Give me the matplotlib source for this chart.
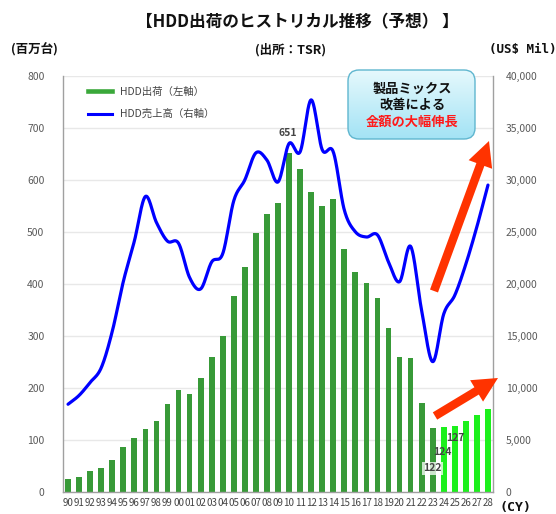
import numpy as np
import matplotlib
matplotlib.use("Agg")
import matplotlib.pyplot as plt
from matplotlib.patches import FancyBboxPatch, FancyArrow
from matplotlib.lines import Line2D
from matplotlib.ticker import FuncFormatter

plt.rcParams['font.family'] = ['Noto Sans CJK JP', 'DejaVu Sans']

# ---------------- data ----------------
years = ["90", "91", "92", "93", "94", "95", "96", "97", "98", "99",
         "00", "01", "02", "03", "04", "05", "06", "07", "08", "09",
         "10", "11", "12", "13", "14", "15", "16", "17", "18", "19",
         "20", "21", "22", "23", "24", "25", "26", "27", "28"]
shipments = [25, 28, 40, 46, 61, 85, 103, 121, 135, 169,
             195, 188, 219, 259, 299, 376, 432, 498, 534, 555,
             651, 620, 576, 550, 563, 467, 422, 401, 373, 315,
             259, 257, 171, 122, 124, 127, 135, 148, 159]
revenue = [8400, 9250, 10500, 11900, 15400, 20200, 24100, 28400, 25900, 24100,
           23900, 20600, 19500, 22100, 22900, 28000, 30000, 32600, 31900, 29800,
           33500, 32700, 37700, 32900, 32700, 27100, 25000, 24500, 24700, 22100,
           20200, 23600, 17400, 12500, 17100, 18900, 21900, 25500, 29500]
forecast_from = "24"
left_ticks = [0, 100, 200, 300, 400, 500, 600, 700, 800]
right_ticks = [0, 5000, 10000, 15000, 20000, 25000, 30000, 35000, 40000]
labelled = {"10": "651", "23": "122", "24": "124", "25": "127"}

title = "【HDD出荷のヒストリカル推移（予想） 】"
left_unit = "(百万台)"
source = "(出所：TSR)"
right_unit = "(US$ Mil)"
x_unit = "(CY)"
legend_labels = ["HDD出荷（左軸）", "HDD売上高（右軸）"]
note_lines = ["製品ミックス", "改善による", "金額の大幅伸長"]

# ---------------- colours ----------------
DARK_GREEN = "#389a38"
LIGHT_GREEN = "#1cf01c"
BLUE = "#0000ff"
GRID = "#e8e8e8"
SPINE = "#a0a0a0"
TICK = "#5a5a5a"
ARROW = "#ff3300"


def catmull_rom(y, n=24):
    y = np.asarray(y, dtype=float)
    p = np.concatenate([[2 * y[0] - y[1]], y, [2 * y[-1] - y[-2]]])
    xs, ys = [], []
    for i in range(len(y) - 1):
        p0, p1, p2, p3 = p[i], p[i + 1], p[i + 2], p[i + 3]
        t = np.linspace(0, 1, n, endpoint=False)
        yy = 0.5 * ((2 * p1) + (-p0 + p2) * t + (2 * p0 - 5 * p1 + 4 * p2 - p3) * t ** 2
                    + (-p0 + 3 * p1 - 3 * p2 + p3) * t ** 3)
        xs.append(i + t)
        ys.append(yy)
    xs.append([len(y) - 1])
    ys.append([y[-1]])
    return np.concatenate(xs), np.concatenate(ys)


W, H = 556, 514
fig = plt.figure(figsize=(W / 100, H / 100), dpi=100)
fig.patch.set_facecolor("white")

L, R, T, B = 62.5, 493.5, 76, 491.5
ax = fig.add_axes([L / W, (H - B) / H, (R - L) / W, (B - T) / H])
x = np.arange(len(years))
fi = years.index(forecast_from)
colors = [DARK_GREEN if i < fi else LIGHT_GREEN for i in range(len(years))]
ax.bar(x, shipments, width=0.52, color=colors, zorder=2)
ax.set_xlim(-0.5, len(years) - 0.5)
ax.set_ylim(left_ticks[0], left_ticks[-1])
ax.set_yticks(left_ticks)
ax.set_xticks(x)
ax.set_xticklabels(years, fontsize=7, color="#444444")
ax.tick_params(axis="x", length=0, pad=5)
ax.tick_params(axis="y", length=0, pad=13, labelsize=7.5, labelcolor=TICK)
ax.set_axisbelow(True)
ax.yaxis.grid(True, color=GRID, lw=1)
for s in ["top", "right"]:
    ax.spines[s].set_visible(False)
for s in ["left", "bottom"]:
    ax.spines[s].set_color(SPINE)
    ax.spines[s].set_linewidth(1)

ax2 = ax.twinx()
lx, ly = catmull_rom(revenue)
ax2.plot(lx, ly, color=BLUE, lw=2.3, zorder=3, solid_capstyle="round")
ax2.set_ylim(right_ticks[0], right_ticks[-1])
ax2.set_yticks(right_ticks)
ax2.yaxis.set_major_formatter(FuncFormatter(lambda v, p: f"{int(v):,}"))
ax2.tick_params(axis="y", length=0, pad=9, labelsize=7.5, labelcolor=TICK)
for s in ["top", "left", "bottom"]:
    ax2.spines[s].set_visible(False)
ax2.spines["right"].set_color(SPINE)
ax2.spines["right"].set_linewidth(1)

# data labels
i10 = years.index("10")
ax.annotate(labelled["10"], (i10, shipments[i10]), xytext=(-1, 15), textcoords="offset points",
            ha="center", va="center", fontsize=7.5, color="#444444", fontweight="bold", zorder=5)
offsets = {"23": (0, -40), "24": (-1, -25), "25": (0, -12)}
for key in ["23", "24", "25"]:
    i = years.index(key)
    ax.annotate(labelled[key], (i, shipments[i]), xytext=offsets[key], textcoords="offset pixels",
                ha="center", va="center", fontsize=7.5, color="#444444", fontweight="bold", zorder=6,
                bbox=dict(boxstyle="square,pad=0.15", fc="white", ec="none",
                          alpha=0.75 if key == "23" else 0.0))

# legend
handles = [Line2D([], [], color="#3aa83a", lw=3.3), Line2D([], [], color=BLUE, lw=2.2)]
ax.legend(handles, legend_labels, loc="upper left", bbox_to_anchor=((88 - L) / (R - L), 1 - (87 - T) / (B - T)),
          frameon=False, fontsize=7.5, handlelength=2.3, handletextpad=0.8, labelspacing=1.15,
          borderaxespad=0, borderpad=0, labelcolor="#444444")

# texts
fig.text(297 / W, 1 - 22 / H, title, ha="center", va="center", fontsize=12, fontweight="bold", color="#111111")
fig.text(34 / W, 1 - 50 / H, left_unit, ha="center", va="center", fontsize=9, fontweight="bold", color="#111111")
fig.text(291 / W, 1 - 50 / H, source, ha="center", va="center", fontsize=9, fontweight="bold", color="#111111")
fig.text(523 / W, 1 - 50 / H, right_unit, ha="center", va="center", fontsize=9, fontweight="bold",
         color="#111111", family=["DejaVu Sans Mono"])
fig.text(516 / W, 1 - 507 / H, x_unit, ha="center", va="center", fontsize=9.5, fontweight="bold",
         color="#111111", family=["DejaVu Sans Mono"])

# overlay for callout box and arrows (pixel coordinates)
ov = fig.add_axes([0, 0, 1, 1], zorder=10)
ov.set_xlim(0, W)
ov.set_ylim(H, 0)
ov.axis("off")

bx0, bx1, by0, by1 = 348, 475, 70, 139
box = FancyBboxPatch((bx0, by0), bx1 - bx0, by1 - by0, boxstyle="round,pad=0,rounding_size=11",
                     fc="none", ec="#5fb6cf", lw=1.0, zorder=3)
ov.add_patch(box)
grad = np.linspace(0, 1, 64).reshape(-1, 1)
top_c = np.array([0.90, 0.975, 0.99])
bot_c = np.array([0.64, 0.89, 0.96])
img = top_c[None, None, :] * (1 - grad[:, :, None]) + bot_c[None, None, :] * grad[:, :, None]
im = ov.imshow(img, extent=(bx0, bx1, by1, by0), aspect="auto", zorder=2, interpolation="bilinear")
im.set_clip_path(box)
ov.set_xlim(0, W)
ov.set_ylim(H, 0)
ov.text(412, 89, note_lines[0], ha="center", va="center", fontsize=9.5, fontweight="bold", color="#111111", zorder=4)
ov.text(412, 105, note_lines[1], ha="center", va="center", fontsize=9.5, fontweight="bold", color="#111111", zorder=4)
ov.text(412, 122, note_lines[2], ha="center", va="center", fontsize=9.5, fontweight="bold", color="#ff1a1a", zorder=4)

for (x0, y0, x1, y1) in [(434, 291, 489, 141), (435, 416, 498, 378)]:
    ov.add_patch(FancyArrow(x0, y0, x1 - x0, y1 - y0, width=8.5, head_width=25, head_length=25,
                            length_includes_head=True, color=ARROW, lw=0, zorder=5))

fig.savefig("out.png", dpi=100)
